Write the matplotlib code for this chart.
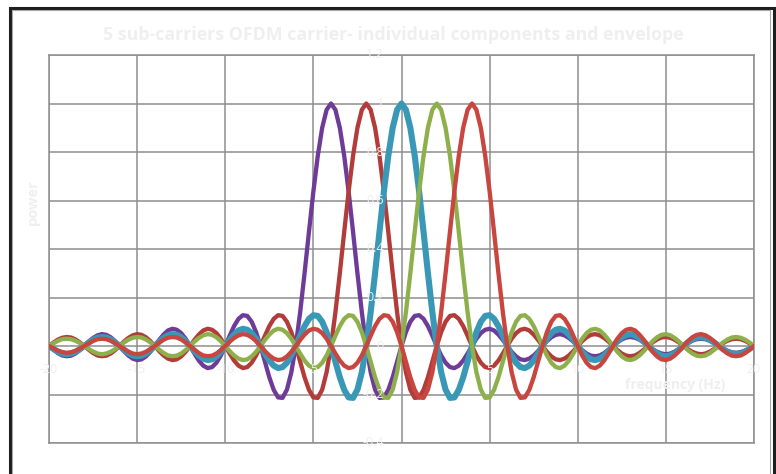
import numpy as np
import matplotlib
matplotlib.use("Agg")
import matplotlib.pyplot as plt
from matplotlib.patches import Rectangle

# sub-carrier centre frequencies (Hz) and their colours
centres = [-4, -2, 0, 2, 4]
colours = ['#6E3C98', '#B23C3A', '#3A98B7', '#8DB04B', '#C8463F']
widths = [3.1, 3.1, 4.4, 3.1, 3.1]

# shared pulse shape, at offsets 0, 0.25, 0.5 ... 24 Hz from the centre
step = 0.25
profile = [
    1.000, 0.974, 0.900, 0.784, 0.637, 0.471, 0.300, 0.139, 0.000,
    -0.108, -0.180, -0.214, -0.212, -0.181, -0.129, -0.065, 0.000,
    0.057, 0.100, 0.124, 0.127, 0.112, 0.082, 0.042, 0.000,
    -0.039, -0.069, -0.087, -0.091, -0.081, -0.060, -0.031, 0.000,
    0.030, 0.053, 0.067, 0.071, 0.064, 0.047, 0.025, 0.000,
    -0.024, -0.043, -0.055, -0.058, -0.052, -0.039, -0.021, 0.000,
    0.020, 0.036, 0.046, 0.049, 0.044, 0.033, 0.018, 0.000,
    -0.017, -0.031, -0.040, -0.042, -0.039, -0.029, -0.015, 0.000,
    0.015, 0.027, 0.035, 0.037, 0.034, 0.026, 0.014, 0.000,
    -0.013, -0.024, -0.031, -0.034, -0.031, -0.023, -0.012, 0.000,
    0.012, 0.022, 0.028, 0.030, 0.028, 0.021, 0.011, 0.000,
    -0.011, -0.020, -0.026, -0.028, -0.025, -0.019, -0.010, 0.000,
]
profile = np.array(profile)

freq = np.arange(-20, 20 + step / 2, step)
xticks = [-20, -15, -10, -5, 0, 5, 10, 15, 20]
yticks = [-0.4, -0.2, 0, 0.2, 0.4, 0.6, 0.8, 1, 1.2]
ylabels = ['-0.4', '-0.2', '0', '0.2', '0.4', '0.6', '0.8', '1', '1.2']

label_col = '#EFEFEF'
plt.rcParams['font.family'] = ['Open Sans', 'DejaVu Sans']

fig = plt.figure(figsize=(7.76, 4.74), dpi=100)
ax = fig.add_axes([49 / 776, 31 / 474, 705 / 776, 388 / 474])

for c, col, lw in zip(centres, colours, widths):
    idx = np.rint(np.abs(freq - c) / step).astype(int)
    ax.plot(freq, profile[idx], color=col, lw=lw, solid_capstyle='round', zorder=3)

ax.set_xlim(-20, 20)
ax.set_ylim(-0.4, 1.2)
ax.set_xticks(xticks)
ax.set_yticks(yticks)
ax.tick_params(length=0, labelbottom=False, labelleft=False)
ax.grid(True, color='#8E8E8E', lw=1.1)
for s in ax.spines.values():
    s.set_color('#8E8E8E')
    s.set_linewidth(1.1)

# tick labels sit on the zero axes, as in the spreadsheet chart
for v, lab in zip(yticks, ylabels):
    ax.text(-1.0, v, lab, ha='right', va='center', color=label_col, fontsize=9, zorder=5)
for v in xticks:
    if v == 0:
        continue
    ax.text(v, -0.095, str(v), ha='center', va='center', color=label_col, fontsize=9, zorder=5)

ax.text(15.5, -0.16, 'frequency (Hz)', ha='center', va='center', color=label_col,
        fontsize=10, fontweight='bold', zorder=5)
fig.text(33 / 776, 1 - 202 / 474, 'power', rotation=90, ha='center', va='center',
         color=label_col, fontsize=10.5, fontweight='bold')
fig.text(393 / 776, 1 - 35 / 474, '5 sub-carriers OFDM carrier- individual components and envelope',
         ha='center', va='center', color=label_col, fontsize=12.8, fontweight='bold')

# outer chart frame
fig.add_artist(Rectangle((9.5 / 776, -0.05), 764 / 776, (0.05 + 1 - 7.5 / 474),
                         transform=fig.transFigure, fill=False, ec='#1E1E1E', lw=2.2))
fig.add_artist(Rectangle((12 / 776, -0.05), 758 / 776, (0.05 + 1 - 10.5 / 474),
                         transform=fig.transFigure, fill=False, ec='#A8A8A8', lw=0.8))

fig.savefig('out.png', dpi=100)
